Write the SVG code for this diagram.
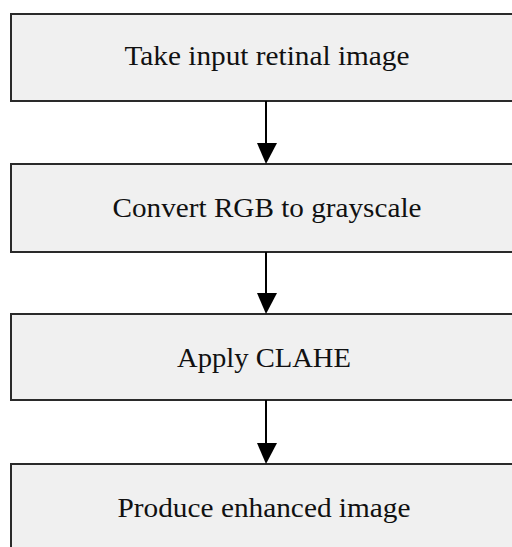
<svg xmlns="http://www.w3.org/2000/svg" width="512" height="547" viewBox="0 0 512 547">
<style>
.box{fill:#f0f0f0;stroke:#2a2a2a;stroke-width:2}
.lbl{font-family:"Liberation Serif","Times New Roman",serif;font-size:27px;fill:#111;text-anchor:middle}
.conn{stroke:#000;stroke-width:2;fill:none}
</style>
<defs>
<marker id="ah" markerWidth="10" markerHeight="10" refX="10" refY="5" orient="auto" markerUnits="userSpaceOnUse" viewBox="0 0 10 10">
<path d="M0,0 L10,5 L0,10 z" fill="#000"/>
</marker>
</defs>
<rect width="512" height="547" fill="#fff"/>
<g id="node1"><rect class="box" x="11" y="14" width="520" height="87"/><text class="lbl" x="267" y="65" textLength="285" lengthAdjust="spacingAndGlyphs">Take input retinal image</text></g>
<g id="node2"><rect class="box" x="11" y="164" width="520" height="88"/><text class="lbl" x="267" y="217" textLength="309" lengthAdjust="spacingAndGlyphs">Convert RGB to grayscale</text></g>
<g id="node3"><rect class="box" x="11" y="314" width="520" height="86"/><text class="lbl" x="264" y="367" textLength="174" lengthAdjust="spacingAndGlyphs">Apply CLAHE</text></g>
<g id="node4"><rect class="box" x="11" y="464" width="520" height="100"/><text class="lbl" x="264" y="517" textLength="293" lengthAdjust="spacingAndGlyphs">Produce enhanced image</text></g>
<g id="connectors">
<path class="conn" d="M266,101 V143"/><path d="M257,143 L277,143 L266,164 z"/>
<path class="conn" d="M266,252 V293"/><path d="M257,293 L277,293 L266,314 z"/>
<path class="conn" d="M266,400 V443"/><path d="M257,443 L277,443 L266,464 z"/>
</g>
</svg>
